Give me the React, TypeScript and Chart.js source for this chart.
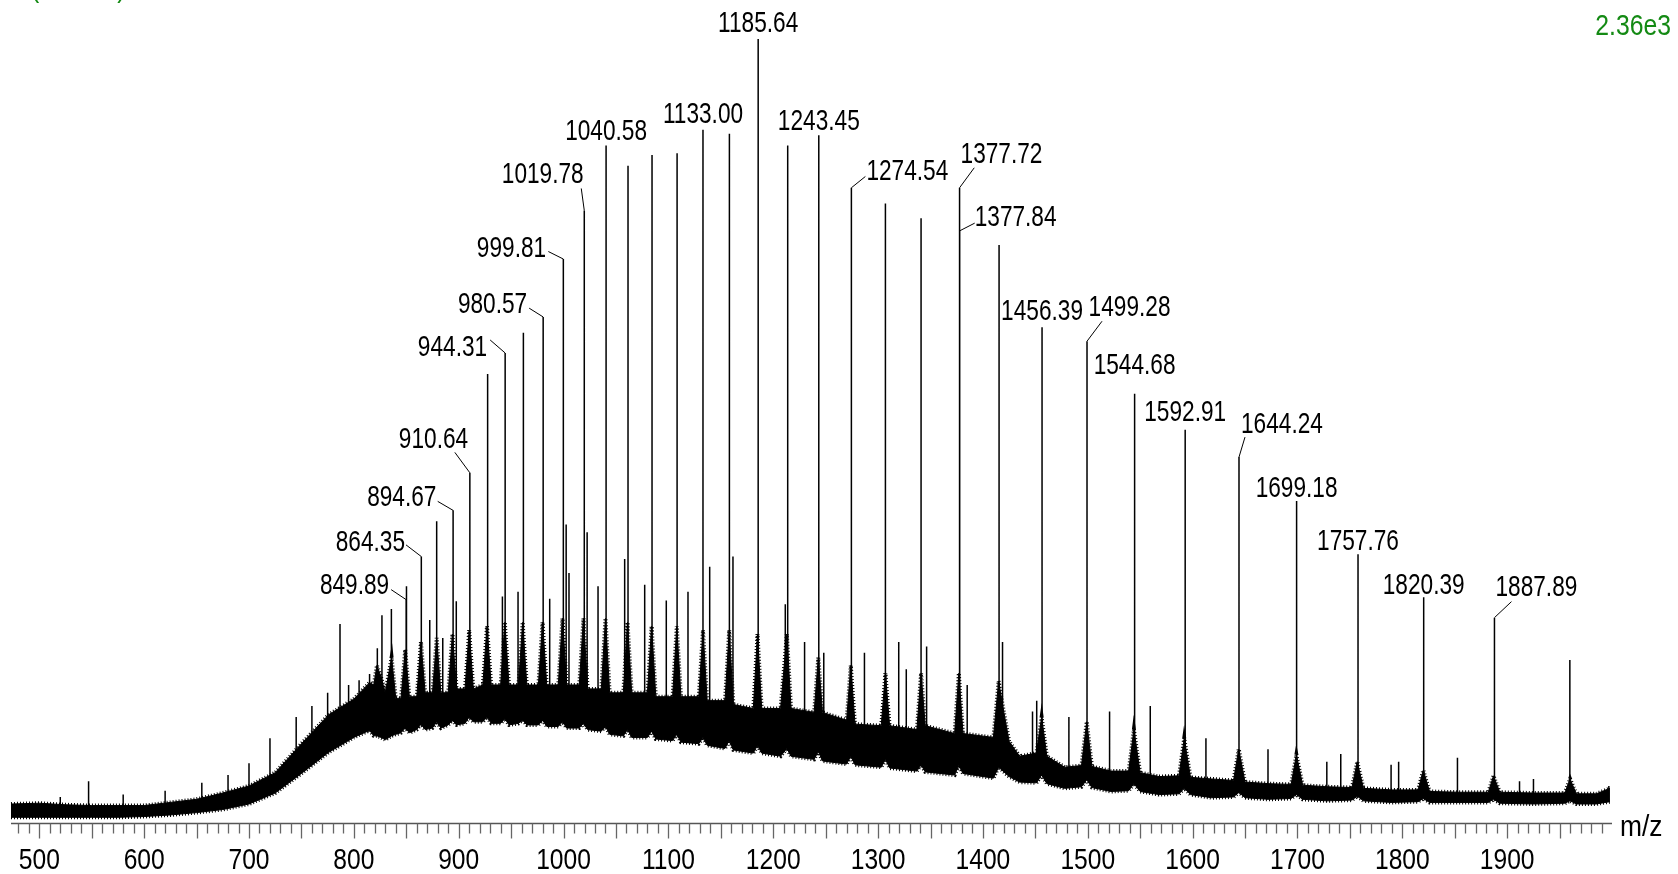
import React, { useEffect, useRef } from "react";
import { Chart, registerables } from "chart.js";

Chart.register(...registerables);

// m/z window of the trace
const MZ_MIN = 473;
const MZ_MAX = 2000;

// Dense noise band of the trace: m/z with its lower and upper edge (% relative intensity)
const bandMz = [
  473, 500, 525, 550, 575, 600, 625, 650, 675, 700, 725, 750, 776, 800, 815,
  819, 822, 826, 830, 836, 840, 845, 849, 853, 860, 864, 868, 875, 879, 883,
  890, 894, 898, 906, 910, 914, 923, 927, 931, 940, 944, 948, 957, 961, 965,
  976, 980, 984, 995, 999, 1003, 1015, 1019, 1023, 1036, 1040, 1044, 1057, 1061, 1065,
  1080, 1084, 1088, 1104, 1108, 1112, 1129, 1133, 1137, 1154, 1158, 1162, 1181, 1185, 1189,
  1207, 1213, 1217, 1239, 1243, 1247, 1270, 1274, 1278, 1303, 1307, 1311, 1337, 1341, 1345,
  1373, 1377, 1381, 1410, 1415, 1420, 1425, 1435, 1451, 1456, 1461, 1478, 1494, 1499, 1504,
  1522, 1539, 1544, 1550, 1568, 1587, 1592, 1598, 1618, 1639, 1644, 1650, 1672, 1694, 1699,
  1705, 1728, 1752, 1757, 1763, 1790, 1815, 1820, 1826, 1855, 1882, 1887, 1893, 1925, 1955,
  1960, 1966, 1985, 1998,
];
const bandLow = [
  0.6, 0.6, 0.6, 0.6, 0.6, 0.7, 0.9, 1.2, 1.6, 2.3, 3.7, 6.2, 8.9, 10.8, 11.7,
  11.0, 11.0, 10.8, 10.5, 11.0, 11.2, 11.4, 12.0, 11.4, 11.8, 12.5, 11.8, 12.0, 12.8, 12.0,
  12.4, 13.0, 12.4, 12.6, 13.4, 12.8, 12.8, 13.4, 12.6, 12.6, 13.2, 12.4, 12.6, 13.0, 12.4,
  12.4, 13.0, 12.2, 12.2, 12.8, 12.0, 12.0, 12.6, 11.8, 11.6, 12.2, 11.2, 11.0, 11.8, 10.8,
  10.8, 11.6, 10.6, 10.4, 11.2, 10.2, 10.0, 10.8, 9.8, 9.4, 10.4, 9.2, 8.8, 9.8, 8.8,
  8.4, 9.4, 8.4, 8.0, 9.0, 7.8, 7.4, 8.4, 7.3, 7.0, 8.0, 6.9, 6.5, 7.3, 6.4,
  6.0, 7.2, 6.2, 5.6, 7.0, 6.4, 5.8, 5.1, 5.0, 6.0, 4.9, 4.3, 4.5, 5.4, 4.4,
  3.9, 4.0, 4.9, 3.9, 3.5, 3.6, 4.3, 3.5, 3.1, 3.2, 3.8, 3.1, 2.9, 3.0, 3.5,
  2.9, 2.7, 2.8, 3.3, 2.7, 2.5, 2.6, 3.0, 2.5, 2.5, 2.5, 2.9, 2.4, 2.3, 2.4,
  2.7, 2.3, 2.3, 2.6,
];
const bandHigh = [
  2.3, 2.4, 2.2, 2.1, 2.1, 2.1, 2.5, 2.9, 3.7, 4.6, 6.3, 10.0, 13.7, 15.7, 17.8,
  17.5, 20.0, 18.5, 16.5, 21.0, 15.8, 15.8, 22.0, 16.0, 16.0, 23.0, 16.5, 16.5, 23.5, 16.5,
  16.5, 24.0, 17.0, 17.0, 24.5, 17.0, 17.5, 25.0, 17.5, 17.5, 25.5, 17.5, 17.5, 25.5, 17.5,
  17.5, 25.5, 17.5, 17.5, 26.0, 17.5, 17.5, 26.0, 17.0, 17.0, 26.0, 16.5, 16.5, 25.5, 16.5,
  16.5, 25.0, 16.0, 16.0, 25.0, 16.0, 16.0, 24.5, 15.5, 15.5, 24.5, 15.0, 14.5, 24.0, 14.5,
  14.5, 24.0, 14.5, 14.0, 21.0, 14.0, 13.0, 20.0, 12.5, 12.3, 19.0, 12.3, 11.8, 19.0, 12.3,
  11.3, 19.0, 11.3, 10.8, 18.0, 14.0, 10.3, 8.4, 8.8, 13.4, 8.4, 7.0, 7.2, 12.8, 7.1,
  6.5, 6.5, 11.8, 6.3, 5.8, 5.9, 10.7, 5.7, 5.5, 5.3, 9.3, 5.1, 4.9, 4.8, 8.6,
  4.7, 4.5, 4.4, 7.7, 4.3, 4.1, 4.1, 6.6, 3.9, 3.8, 3.8, 5.9, 3.8, 3.7, 3.7,
  5.5, 3.6, 3.6, 4.3,
];

// Annotated peaks: centroid m/z and relative intensity (%)
const labeledMz = [
  849.89, 864.35, 894.67, 910.64, 944.31, 980.57, 999.81, 1019.78, 1040.58, 1133.0, 1185.64, 1243.45,
  1274.54, 1377.72, 1377.84, 1456.39, 1499.28, 1544.68, 1592.91, 1644.24, 1699.18, 1757.76, 1820.39, 1887.89,
];
const labeledInt = [
  28.4, 33.9, 39.8, 44.6, 59.9, 64.5, 71.9, 78.1, 86.4, 88.4, 100, 87.7,
  81.0, 81.0, 75.5, 63.2, 61.4, 54.7, 50.1, 46.6, 41.0, 34.2, 28.7, 26.1,
];

// Unannotated peaks: m/z and relative intensity (%)
const peakMz = [
  520, 547, 580, 620, 655, 680, 700, 720, 745, 760, 775, 786.8, 795, 805, 815,
  822.4, 826.8, 835.8, 850.2, 872.4, 879.0, 884.8, 897.7, 927.6, 941.7, 956.6, 961.7, 986.8, 1002.5, 1005.2,
  1022.5, 1032.9, 1058.3, 1061.5, 1077.4, 1084.4, 1098.0, 1108.3, 1118.7, 1139.4, 1158.2, 1161.6, 1211.5, 1213.8, 1229.9,
  1248.2, 1287.0, 1307.0, 1319.7, 1326.9, 1341.0, 1346.3, 1385.0, 1415.4, 1418.7, 1447.3, 1451.3, 1482.0, 1520.8, 1559.6,
  1612.7, 1671.9, 1728.0, 1741.3, 1789.3, 1796.5, 1852.6, 1911.8, 1925.1, 1959.8, 1997.0,
];
const peakInt = [
  3.2, 5.2, 3.5, 4.0, 5.0, 6.0, 7.5, 10.7, 13.4, 14.8, 16.5, 25.3, 17.5, 18.1, 18.9,
  22.2, 26.4, 27.2, 30.1, 25.8, 38.4, 23.5, 28.2, 57.2, 28.8, 29.4, 62.5, 28.5, 38.0, 31.8,
  37.0, 30.1, 33.6, 83.8, 30.3, 85.2, 28.3, 85.4, 29.4, 32.6, 87.9, 33.9, 27.8, 86.4, 23.0,
  21.6, 21.6, 79.0, 23.0, 19.5, 77.1, 22.4, 17.5, 73.7, 23.0, 14.1, 15.5, 13.4, 14.1, 14.8,
  10.7, 9.3, 7.7, 8.7, 7.3, 7.7, 8.2, 5.2, 5.5, 20.7, 4.6,
];

// Axis tick labels
const tickValues = [500, 600, 700, 800, 900, 1000, 1100, 1200, 1300, 1400, 1500, 1600, 1700, 1800, 1900];
const axisTitle = "m/z";
const fullScale = "2.36e3";
const unitText = "(Counts)";

// Placement of each annotation relative to its peak apex (px):
// text anchor, text alignment and start of the leader line (if any)
type Place = { align: CanvasTextAlign; dx: number; dy: number; lx?: number; ly?: number };
const labelPlacement: Place[] = [
  { align: "right", dx: -17, dy: -5.7, lx: -15, ly: -10 },
  { align: "right", dx: -16.3, dy: -6, lx: -15.3, ly: -11.7 },
  { align: "right", dx: -16.7, dy: -4.7, lx: -15.4, ly: -9 },
  { align: "right", dx: -1.7, dy: -25, lx: -15, ly: -20.4 },
  { align: "right", dx: -18, dy: 3, lx: -15, ly: -13 },
  { align: "right", dx: -16, dy: -4.3, lx: -14, ly: -8.8 },
  { align: "right", dx: -17.2, dy: -2.2, lx: -15, ly: -7.5 },
  { align: "right", dx: -0.6, dy: -27, lx: -3, ly: -22 },
  { align: "center", dx: 0, dy: -5 },
  { align: "center", dx: 0, dy: -6.7 },
  { align: "center", dx: 0, dy: -6.6 },
  { align: "center", dx: 0, dy: -5.7 },
  { align: "left", dx: 15, dy: -8, lx: 14, ly: -11.3 },
  { align: "left", dx: 1, dy: -25, lx: 14.7, ly: -20 },
  { align: "left", dx: 15, dy: -5, lx: 15, ly: -7.7 },
  { align: "center", dx: 0, dy: -7.3 },
  { align: "left", dx: 1.6, dy: -25, lx: 15, ly: -20 },
  { align: "center", dx: 0, dy: -20 },
  { align: "center", dx: 0, dy: -8.5 },
  { align: "left", dx: 2, dy: -24.6, lx: 6, ly: -20 },
  { align: "center", dx: 0, dy: -4.3 },
  { align: "center", dx: 0, dy: -4.4 },
  { align: "center", dx: 0, dy: -3 },
  { align: "left", dx: 1, dy: -21.6, lx: 17, ly: -16 },
];

const FONT = '30px "Liberation Sans", Arial, sans-serif';
const GREEN = "#148a14";

// foot of a peak stick: lower edge of the noise band at that m/z
function bandFloor(mz: number): number {
  let i = 1;
  while (i < bandMz.length - 1 && bandMz[i] < mz) i++;
  const a = bandMz[i - 1];
  const b = bandMz[i];
  const t = Math.min(1, Math.max(0, (mz - a) / (b - a)));
  return bandLow[i - 1] + (bandLow[i] - bandLow[i - 1]) * t;
}

function drawText(
  ctx: CanvasRenderingContext2D,
  str: string,
  x: number,
  y: number,
  align: CanvasTextAlign,
  sx: number
) {
  ctx.save();
  ctx.translate(x, y);
  ctx.scale(sx, 1);
  ctx.textAlign = align;
  ctx.textBaseline = "alphabetic";
  ctx.fillText(str, 0, 0);
  ctx.restore();
}

const axisPlugin = {
  id: "spectrumAxis",
  afterDraw(chart: any) {
    const ctx: CanvasRenderingContext2D = chart.ctx;
    const xs = chart.scales.x;
    const area = chart.chartArea;
    const yAxis = area.bottom + 1.5;
    ctx.save();
    // baseline of the m/z axis
    ctx.strokeStyle = "#555";
    ctx.lineWidth = 1.6;
    ctx.beginPath();
    ctx.moveTo(area.left, yAxis);
    ctx.lineTo(area.right, yAxis);
    ctx.stroke();
    // ticks every 10 m/z, longer every 50
    ctx.lineWidth = 1.3;
    ctx.strokeStyle = "#666";
    for (let v = 480; v < MZ_MAX; v += 10) {
      const px = Math.round(xs.getPixelForValue(v)) + 0.5;
      const len = v % 50 === 0 ? 15 : 10;
      ctx.beginPath();
      ctx.moveTo(px, yAxis);
      ctx.lineTo(px, yAxis + len);
      ctx.stroke();
    }
    ctx.fillStyle = "#000";
    ctx.font = FONT;
    tickValues.forEach((v) => {
      drawText(ctx, String(v), xs.getPixelForValue(v), yAxis + 45, "center", 0.82);
    });
    drawText(ctx, axisTitle, area.right + 8, yAxis + 12.5, "left", 0.88);
    // intensity annotations in the top corners
    ctx.fillStyle = GREEN;
    drawText(ctx, fullScale, 1671, 35, "right", 0.825);
    drawText(ctx, unitText, 31, -3, "left", 0.82);
    ctx.restore();
  },
};

const labelPlugin = {
  id: "peakLabels",
  afterDatasetsDraw(chart: any) {
    const ctx: CanvasRenderingContext2D = chart.ctx;
    const xs = chart.scales.x;
    const ys = chart.scales.y;
    ctx.save();
    ctx.font = FONT;
    ctx.fillStyle = "#000";
    ctx.strokeStyle = "#000";
    ctx.lineWidth = 1;
    labeledMz.forEach((mz, i) => {
      const p = labelPlacement[i];
      const ax = xs.getPixelForValue(mz);
      const ay = ys.getPixelForValue(labeledInt[i]);
      if (p.lx !== undefined && p.ly !== undefined) {
        ctx.beginPath();
        ctx.moveTo(ax + p.lx, ay + p.ly);
        ctx.lineTo(ax, ay);
        ctx.stroke();
      }
      drawText(ctx, mz.toFixed(2), ax + p.dx, ay + p.dy, p.align, 0.755);
    });
    ctx.restore();
  },
};

export default function App() {
  const canvasRef = useRef<HTMLCanvasElement | null>(null);

  useEffect(() => {
    const canvas = canvasRef.current;
    if (!canvas) return;

    const upper = bandMz.map((x, i) => ({ x, y: bandHigh[i] }));
    const lower = bandMz.map((x, i) => ({ x, y: bandLow[i] }));

    const sticks: { x: number; y: number | null }[] = [];
    const addStick = (mz: number, h: number) => {
      sticks.push({ x: mz, y: bandFloor(mz) });
      sticks.push({ x: mz, y: h });
      sticks.push({ x: mz, y: null });
    };
    peakMz.forEach((mz, i) => addStick(mz, peakInt[i]));
    labeledMz.forEach((mz, i) => addStick(mz, labeledInt[i]));

    // serrated stroke along the band edges, standing in for the detector noise
    const edge = (data: { x: number; y: number }[]) => ({
      data,
      borderColor: "#000",
      borderWidth: 4,
      borderDash: [1, 2],
      pointRadius: 0,
      fill: false,
      tension: 0,
      clip: false,
    });

    const chart = new Chart(canvas, {
      type: "line",
      data: {
        datasets: [
          {
            data: upper,
            borderColor: "#000",
            backgroundColor: "#000",
            borderWidth: 1,
            pointRadius: 0,
            fill: "+1",
            tension: 0,
            clip: false,
          },
          {
            data: lower,
            borderColor: "#000",
            borderWidth: 1,
            pointRadius: 0,
            fill: false,
            tension: 0,
            clip: false,
          },
          edge(upper),
          edge(lower),
          {
            data: sticks,
            borderColor: "#000",
            borderWidth: 1.5,
            pointRadius: 0,
            fill: false,
            spanGaps: false,
            tension: 0,
            clip: false,
          },
        ],
      } as any,
      options: {
        responsive: false,
        animation: false,
        parsing: true,
        layout: { padding: { left: 11, right: 66, top: 39, bottom: 52 } },
        scales: {
          x: { type: "linear", min: MZ_MIN, max: MZ_MAX, display: false },
          y: { type: "linear", min: 0, max: 100, display: false },
        },
        plugins: {
          legend: { display: false },
          tooltip: { enabled: false },
        },
        events: [],
      } as any,
      plugins: [axisPlugin, labelPlugin],
    });

    return () => chart.destroy();
  }, []);

  return (
    <div
      style={{
        position: "fixed",
        left: 0,
        top: 0,
        width: 1678,
        height: 874,
        background: "#fff",
        overflow: "hidden",
      }}
    >
      <canvas ref={canvasRef} width={1678} height={874} style={{ display: "block" }} />
    </div>
  );
}
